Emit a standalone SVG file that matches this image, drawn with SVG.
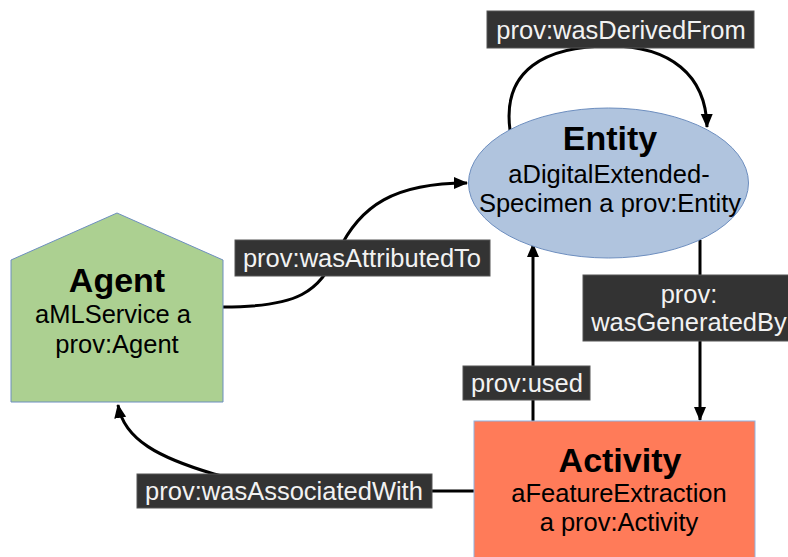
<svg xmlns="http://www.w3.org/2000/svg" width="788" height="557" viewBox="0 0 788 557">
  <style>
    .edge { fill: none; stroke: #000; stroke-width: 3; }
    .lbl-box { fill: #333333; stroke: #555; stroke-width: 1; }
    .lbl { font-family: "Liberation Sans", Arial, sans-serif; font-size: 25.5px; fill: #f2f2f2; text-anchor: middle; }
    .title { font-family: "Liberation Sans", Arial, sans-serif; font-size: 34px; font-weight: bold; fill: #000; text-anchor: middle; }
    .body { font-family: "Liberation Sans", Arial, sans-serif; font-size: 25.5px; fill: #000; text-anchor: middle; }
  </style>
  <defs>
    <marker id="arrow" markerUnits="userSpaceOnUse" markerWidth="14" markerHeight="14" viewBox="0 0 14 14" refX="13" refY="7" orient="auto">
      <path d="M0,1 L14,7 L0,13 Z" fill="#000"/>
    </marker>
  </defs>
  <rect width="788" height="557" fill="#ffffff"/>

  <!-- connectors -->
  <g id="edges">
    <path class="edge" d="M510,130 C502,70 545,46 610,46 C670,46 706,75 707,127" marker-end="url(#arrow)"/>
    <path class="edge" d="M223,307 C300,307 318,292 338,252 C360,205 395,183 467,183" marker-end="url(#arrow)"/>
    <path class="edge" d="M700,240 L700,420" marker-end="url(#arrow)"/>
    <path class="edge" d="M533,421 L533,244" marker-end="url(#arrow)"/>
    <path class="edge" d="M474,491 L330,491 C300,491 250,484 214,474 C160,458 124,440 118,405" marker-end="url(#arrow)"/>
  </g>

  <g id="entity">
    <ellipse cx="608.5" cy="183" rx="140" ry="75" fill="#b0c4de" stroke="#6d8ebf" stroke-width="1"/>
    <text class="title" x="610" y="150">Entity</text>
    <text class="body" x="609" y="183">aDigitalExtended-</text>
    <text class="body" x="610" y="212">Specimen a prov:Entity</text>
  </g>

  <g id="agent">
    <path d="M11,260 L117,213 L223,260 L223,402 L11,402 Z" fill="#acd091" stroke="#6d8ebf" stroke-width="1"/>
    <text class="title" x="117" y="292">Agent</text>
    <text class="body" x="113" y="323">aMLService a</text>
    <text class="body" x="117" y="353">prov:Agent</text>
  </g>

  <g id="activity">
    <rect x="474" y="421" width="281" height="140" fill="#ff7b59" stroke="#8eb4e3" stroke-width="1"/>
    <text class="title" x="620" y="472">Activity</text>
    <text class="body" x="619" y="502">aFeatureExtraction</text>
    <text class="body" x="619" y="531">a prov:Activity</text>
  </g>

  <!-- connector labels -->
  <g id="label-wasDerivedFrom">
    <rect class="lbl-box" x="487" y="11" width="267" height="37"/>
    <text class="lbl" x="621" y="39">prov:wasDerivedFrom</text>
  </g>
  <g id="label-wasAttributedTo">
    <rect class="lbl-box" x="235" y="240" width="255" height="36"/>
    <text class="lbl" x="362" y="267">prov:wasAttributedTo</text>
  </g>
  <g id="label-wasGeneratedBy">
    <rect class="lbl-box" x="583" y="275" width="210" height="66"/>
    <text class="lbl" x="689" y="303">prov:</text>
    <text class="lbl" x="689" y="331">wasGeneratedBy</text>
  </g>
  <g id="label-used">
    <rect class="lbl-box" x="463" y="366" width="127" height="34"/>
    <text class="lbl" x="527" y="392">prov:used</text>
  </g>
  <g id="label-wasAssociatedWith">
    <rect class="lbl-box" x="137" y="474" width="295" height="34"/>
    <text class="lbl" x="284" y="500">prov:wasAssociatedWith</text>
  </g>
</svg>
